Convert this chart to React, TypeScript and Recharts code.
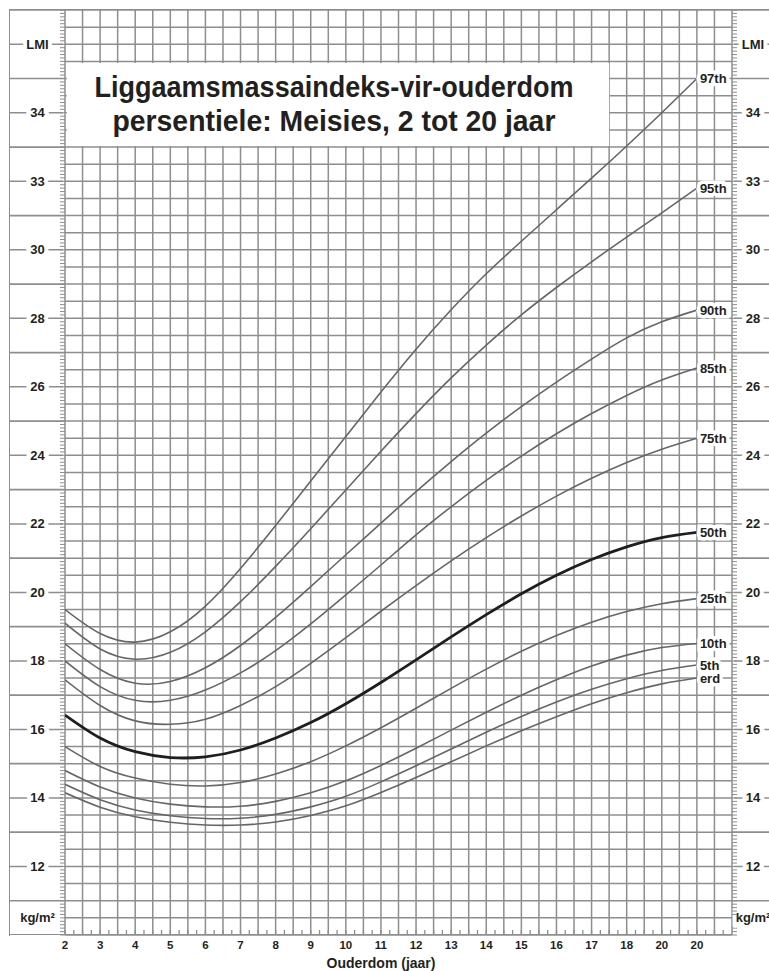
import React from "react";
import { CartesianGrid, LabelList, Line, LineChart, ReferenceArea, XAxis, YAxis } from "recharts";

// ouderdom (jaar)
const ages = [2, 3, 4, 5, 6, 7, 8, 9, 10, 11, 12, 13, 14, 15, 16, 17, 18, 19, 20];

// LMI persentiele (kg/m²)
const p3 = [14.15, 13.73, 13.45, 13.29, 13.21, 13.21, 13.3, 13.49, 13.77, 14.16, 14.6, 15.06, 15.52, 15.96, 16.37, 16.75, 17.07, 17.33, 17.5];
const p5 = [14.4, 13.95, 13.65, 13.48, 13.4, 13.41, 13.52, 13.74, 14.05, 14.47, 14.94, 15.43, 15.92, 16.38, 16.8, 17.17, 17.48, 17.72, 17.88];
const p10 = [14.8, 14.32, 14.0, 13.82, 13.74, 13.76, 13.9, 14.15, 14.5, 14.95, 15.45, 15.98, 16.5, 17.0, 17.45, 17.85, 18.17, 18.39, 18.51];
const p25 = [15.5, 14.92, 14.58, 14.4, 14.35, 14.45, 14.7, 15.06, 15.52, 16.05, 16.62, 17.2, 17.76, 18.28, 18.74, 19.13, 19.44, 19.67, 19.82];
const p50 = [16.42, 15.75, 15.35, 15.18, 15.2, 15.4, 15.75, 16.2, 16.75, 17.37, 18.03, 18.7, 19.35, 19.96, 20.5, 20.96, 21.33, 21.6, 21.75];
const p75 = [17.45, 16.7, 16.25, 16.15, 16.3, 16.7, 17.25, 17.93, 18.68, 19.45, 20.2, 20.92, 21.6, 22.23, 22.81, 23.33, 23.79, 24.18, 24.5];
const p85 = [18.0, 17.25, 16.85, 16.85, 17.15, 17.65, 18.3, 19.08, 19.93, 20.8, 21.68, 22.5, 23.27, 23.98, 24.63, 25.22, 25.75, 26.2, 26.55];
const p90 = [18.5, 17.75, 17.35, 17.4, 17.8, 18.45, 19.27, 20.17, 21.1, 22.02, 22.94, 23.82, 24.65, 25.42, 26.14, 26.81, 27.43, 27.9, 28.24];
const p95 = [19.1, 18.35, 18.05, 18.25, 18.85, 19.73, 20.76, 21.86, 22.99, 24.12, 25.22, 26.26, 27.22, 28.1, 28.9, 29.65, 30.37, 31.08, 31.8];
const p97 = [19.5, 18.8, 18.55, 18.85, 19.6, 20.7, 21.95, 23.25, 24.55, 25.85, 27.1, 28.25, 29.3, 30.25, 31.17, 32.09, 33.03, 34.0, 35.0];

const series = [
  { key: "p3", label: "erd", values: p3 },
  { key: "p5", label: "5th", values: p5 },
  { key: "p10", label: "10th", values: p10 },
  { key: "p25", label: "25th", values: p25 },
  { key: "p75", label: "75th", values: p75 },
  { key: "p85", label: "85th", values: p85 },
  { key: "p90", label: "90th", values: p90 },
  { key: "p95", label: "95th", values: p95 },
  { key: "p97", label: "97th", values: p97 },
];

// as-etikette soos op die kaart
const xTicks = [2, 3, 4, 5, 6, 7, 8, 9, 10, 11, 12, 13, 14, 15, 16, 17, 18, 19, 20];
const xTickLabels = ["2", "3", "4", "5", "6", "7", "8", "9", "10", "11", "12", "13", "14", "15", "16", "17", "18", "20", "20"];
const yTicks = [10.5, 12, 14, 16, 18, 20, 22, 24, 26, 28, 30, 32, 34, 36];
const yTickLabels = ["kg/m²", "12", "14", "16", "18", "20", "22", "24", "26", "28", "30", "33", "34", "LMI"];

const titleLines = ["Liggaamsmassaindeks-vir-ouderdom", "persentiele: Meisies, 2 tot 20 jaar"];
const xTitle = "Ouderdom (jaar)";

const data = ages.map((age, i) => {
  const row: Record<string, number> = { age, p50: p50[i] };
  series.forEach((s) => (row[s.key] = s.values[i]));
  return row;
});

// fyn merkies / rooster
const step = (from: number, to: number, d: number) => {
  const out: number[] = [];
  for (let v = from; v <= to + 1e-9; v += d) out.push(Math.round(v * 100) / 100);
  return out;
};
const xFine = step(2, 21, 0.25);
const xGrid = step(2, 21, 0.5);
const yFine = step(10, 37, 0.1);
const yGrid = step(10, 37, 0.5);

const GRID = "#8e8e8e";
const INK = "#231f20";
const SANS = "'Liberation Sans', Arial, sans-serif";
const FRAME_X = 9;
const W = 769;

const scaleOf = (axis: any, v: number, fallback: () => number) => {
  const s = axis && axis.scale;
  if (typeof s === "function") return s(v);
  if (s && typeof s.map === "function") return s.map(v);
  return fallback();
};

const isOdd = (v: number) => Number.isInteger(v) && Math.abs(v % 2) === 1;

function LeftTick(props: any) {
  const { x, y, payload } = props;
  const v = payload.value;
  const idx = yTicks.indexOf(v);
  return (
    <g>
      <line x1={x - 5} x2={x} y1={y} y2={y} stroke={GRID} strokeWidth={1} />
      {isOdd(v) && <line x1={FRAME_X} x2={x} y1={y} y2={y} stroke={GRID} strokeWidth={1.7} />}
      {idx >= 0 && v !== 10.5 && <line x1={FRAME_X} x2={x - 2} y1={y} y2={y} stroke={GRID} strokeWidth={1.5} />}
      {idx >= 0 && (
        <text x={37.5} y={y} dy={4.5} textAnchor="middle" fontFamily={SANS} fontSize={13} fontWeight="bold"
          fill={INK} stroke="#fff" strokeWidth={8} paintOrder="stroke">
          {yTickLabels[idx]}
        </text>
      )}
    </g>
  );
}

function RightTick(props: any) {
  const { x, y, payload } = props;
  const v = payload.value;
  const idx = yTicks.indexOf(v);
  return (
    <g>
      <line x1={x} x2={x + 5} y1={y} y2={y} stroke={GRID} strokeWidth={1} />
      {isOdd(v) && <line x1={x} x2={W} y1={y} y2={y} stroke={GRID} strokeWidth={1.7} />}
      {idx >= 0 && v !== 10.5 && <line x1={x + 2} x2={W} y1={y} y2={y} stroke={GRID} strokeWidth={1.5} />}
      {idx >= 0 && (
        <text x={x + 21} y={y} dy={4.5} textAnchor="middle" fontFamily={SANS} fontSize={13} fontWeight="bold"
          fill={INK} stroke="#fff" strokeWidth={8} paintOrder="stroke">
          {yTickLabels[idx]}
        </text>
      )}
    </g>
  );
}

function BottomTick(props: any) {
  const { x, y, payload } = props;
  const v = payload.value;
  const idx = xTicks.indexOf(v);
  return (
    <g>
      {v < 21 && <line x1={x} x2={x} y1={y - 5} y2={y} stroke={GRID} strokeWidth={1.3} />}
      {idx >= 0 && (
        <text x={x} y={y + 14} textAnchor="middle" fontFamily={SANS} fontSize={11.5} fontWeight="bold" fill={INK}>
          {xTickLabels[idx]}
        </text>
      )}
    </g>
  );
}

const endLabel = (text: string) => (props: any) => {
  const x = props.x ?? props.viewBox?.x;
  const y = props.y ?? props.viewBox?.y;
  if (props.index !== ages.length - 1 || x == null || y == null) return null;
  return (
    <text x={x + 3} y={y} dy={4.5} fontFamily={SANS} fontSize={13} fontWeight="bold" fill={INK}
      stroke="#fff" strokeWidth={7} paintOrder="stroke">
      {text}
    </text>
  );
};

const renderTitle = (props: any) => {
  const vb = props.viewBox || {};
  const cx = vb.x + vb.width / 2 - 4;
  const style = { fontFamily: SANS, fontWeight: 700, fontSize: 30 } as const;
  return (
    <g>
      <text x={cx} y={vb.y + 34} textAnchor="middle" fill={INK} style={style} textLength={479}
        lengthAdjust="spacingAndGlyphs">
        {titleLines[0]}
      </text>
      <text x={cx} y={vb.y + 68} textAnchor="middle" fill={INK} style={style} textLength={443}
        lengthAdjust="spacingAndGlyphs">
        {titleLines[1]}
      </text>
    </g>
  );
};

const renderXTitle = (props: any) => {
  const vb = props.viewBox || {};
  return (
    <text x={vb.x + vb.width / 2 - 17.5} y={vb.y + 33} textAnchor="middle" fontFamily={SANS} fontSize={14}
      fontWeight="bold" fill={INK}>
      {xTitle}
    </text>
  );
};

export default function App() {
  return (
    <div style={{ position: "absolute", left: 0, top: 0, width: W, height: 971, background: "#fff" }}>
      <div style={{ position: "absolute", left: 8.5, top: 8.5, width: W, height: 926, borderTop: `1.5px solid ${GRID}`, borderLeft: `1.5px solid ${GRID}` }} />
      <div style={{ position: "absolute", left: 9, top: 934.3, width: 723, height: 0, borderTop: `1.5px solid ${GRID}` }} />
      <LineChart width={W} height={971} data={data} margin={{ top: 10, right: 0, bottom: 0, left: FRAME_X }}
        style={{ position: "absolute", left: 0, top: 0 }}>
        <CartesianGrid
          yAxisId="left"
          stroke={GRID}
          strokeWidth={1.5}
          verticalCoordinatesGenerator={({ xAxis, offset }: any) =>
            xGrid.map((a) => scaleOf(xAxis, a, () => offset.left + ((a - 2) / 19) * offset.width))
          }
          horizontalCoordinatesGenerator={({ yAxis, offset }: any) =>
            yGrid.map((v) => scaleOf(yAxis, v, () => offset.top + ((37 - v) / 27) * offset.height))
          }
        />
        <XAxis dataKey="age" type="number" domain={[2, 21]} ticks={xFine} interval={0} height={36}
          tickSize={0} tickMargin={0} tickLine={false} axisLine={false} tick={<BottomTick />}
          label={renderXTitle} allowDataOverflow />
        <YAxis yAxisId="left" type="number" domain={[10, 37]} ticks={yFine} interval={0} width={56}
          tickSize={0} tickMargin={0} tickLine={false} axisLine={false} tick={<LeftTick />} allowDataOverflow />
        <YAxis yAxisId="right" orientation="right" type="number" domain={[10, 37]} ticks={yFine} interval={0}
          width={37} tickSize={0} tickMargin={0} tickLine={false} axisLine={false} tick={<RightTick />}
          allowDataOverflow />
        <ReferenceArea yAxisId="left" x1={2.05} x2={17.5} y1={33.03} y2={35.45} fill="#fff" fillOpacity={1}
          stroke="none" label={renderTitle} />
        {series.map((s) => (
          <Line key={s.key} yAxisId="left" type="natural" dataKey={s.key} stroke="#666" strokeWidth={1.6}
            dot={false} activeDot={false} isAnimationActive={false}>
            <LabelList dataKey={s.key} content={endLabel(s.label)} />
          </Line>
        ))}
        <Line yAxisId="left" type="natural" dataKey="p50" stroke="#1e1e1e" strokeWidth={2.8}
          dot={false} activeDot={false} isAnimationActive={false}>
          <LabelList dataKey="p50" content={endLabel("50th")} />
        </Line>
      </LineChart>
    </div>
  );
}
